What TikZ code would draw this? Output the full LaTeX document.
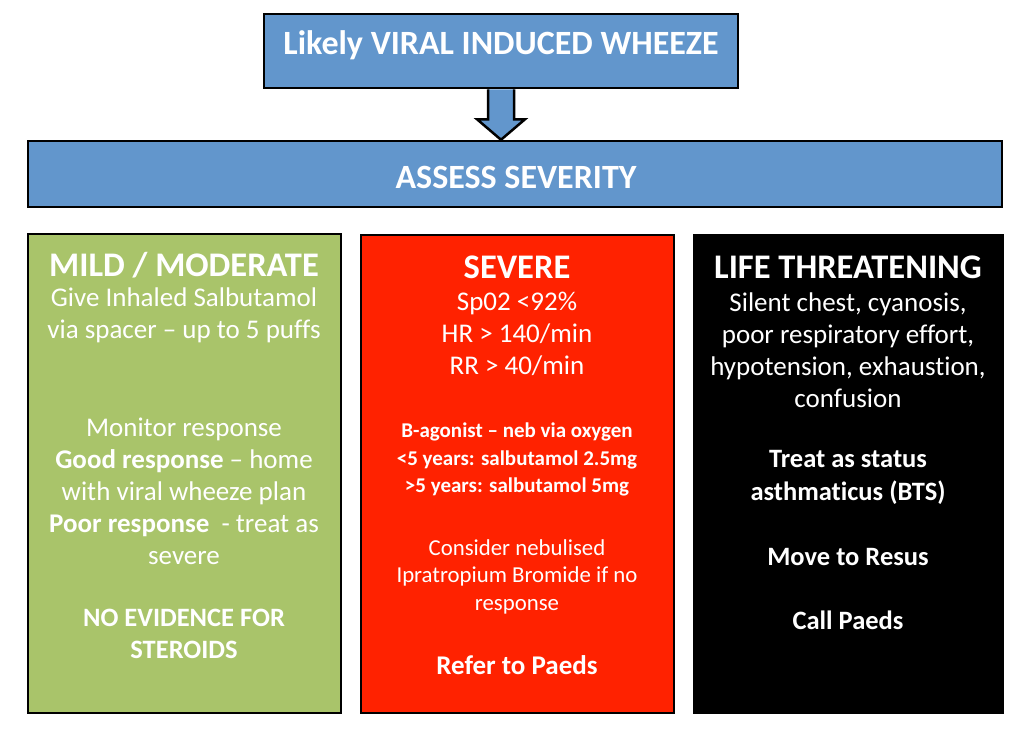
\documentclass[tikz,border=0pt]{standalone}
\usepackage{fontspec}
\setmainfont[Ligatures=NoCommon]{Carlito}
\usetikzlibrary{calc}
\definecolor{wheezeblue}{RGB}{98,150,204}
\definecolor{mildgreen}{RGB}{169,196,106}
\definecolor{severered}{RGB}{255,34,0}
\tikzset{
  panel/.style={draw=black, line width=2.5pt, inner sep=0pt},
  txt/.style={text=white, align=center, inner sep=0pt},
  headtxt/.style={txt, font=\bfseries\fontsize{34.5}{38}\selectfont},
  bodytxt/.style={txt, font=\fontsize{27}{32}\selectfont},
  boldtxt/.style={txt, font=\bfseries\fontsize{26.5}{32}\selectfont},
  smalltxt/.style={txt, font=\fontsize{22.8}{27.5}\selectfont},
  smallbold/.style={txt, font=\bfseries\fontsize{21}{27.5}\selectfont}
}
\begin{document}
\begin{tikzpicture}[x=1pt, y=-1pt]
  \useasboundingbox [fill=white] (0,0) rectangle (1024,739);
  % top boxes
  \node [panel, fill=wheezeblue, minimum width=474pt, minimum height=74pt] (viral) at (501,51) {};
  \node [panel, fill=wheezeblue, minimum width=974pt, minimum height=66pt] (assess) at (515,174) {};
  \node [txt, font=\bfseries\fontsize{34}{38}\selectfont] (viraltxt) at (501,45) {Likely VIRAL INDUCED WHEEZE};
  \node [txt, font=\bfseries\fontsize{34}{38}\selectfont] (assesstxt) at (516,177) {ASSESS SEVERITY};
  % block arrow
  \draw [line width=2.5pt, fill=wheezeblue, line join=miter]
    ($(viral.south)+(-13,0)$) -- ($(viral.south)+(-13,30)$) -- ($(viral.south)+(-24,30)$)
    -- (viral.south |- assess.north) -- ($(viral.south)+(24,30)$) -- ($(viral.south)+(13,30)$)
    -- ($(viral.south)+(13,0)$);
  % three columns
  \node [panel, fill=mildgreen, minimum width=313pt, minimum height=479pt] (mild) at (184.5,473.5) {};
  \node [panel, fill=severered, minimum width=313pt, minimum height=478pt] (severe) at (517.5,474) {};
  \node [panel, fill=black, minimum width=309pt, minimum height=478pt] (life) at (848.5,474) {};
  % mild / moderate
  \node [headtxt] (mildhead) at (184,265) {MILD / MODERATE};
  \node [bodytxt] (mildgive) at (184,315.5) {Give Inhaled Salbutamol\\via spacer -- up to 5 puffs};
  \node [bodytxt] (mildresp) at (184,491) {Monitor response\\\textbf{Good response} -- home\\with viral wheeze plan\\\textbf{Poor response}~ - treat as\\severe};
  \node [boldtxt] (mildster) at (184,634) {NO EVIDENCE FOR\\STEROIDS};
  % severe
  \node [headtxt] (severehead) at (517,267) {SEVERE};
  \node [bodytxt] (severeobs) at (517,334) {Sp02 <92\%\\HR > 140/min\\RR > 40/min};
  \node [smallbold] (severeneb) at (517,459.5) {B-agonist -- neb via oxygen\\<5 years: salbutamol 2.5mg\\>5 years: salbutamol 5mg};
  \node [smalltxt] (severeipra) at (517,576.5) {Consider nebulised\\Ipratropium Bromide if no\\response};
  \node [txt, font=\bfseries\fontsize{27}{30}\selectfont] (severerefer) at (517,665) {Refer to Paeds};
  % life threatening
  \node [headtxt] (lifehead) at (848,267) {LIFE THREATENING};
  \node [bodytxt] (lifesigns) at (848,350) {Silent chest, cyanosis,\\poor respiratory effort,\\hypotension, exhaustion,\\confusion};
  \node [txt, font=\bfseries\fontsize{26.5}{33}\selectfont] (lifebts) at (848,477.5) {Treat as status\\asthmaticus (BTS)};
  \node [boldtxt] (liferesus) at (848,557) {Move to Resus};
  \node [boldtxt] (lifepaeds) at (848,620) {Call Paeds};
\end{tikzpicture}
\end{document}
